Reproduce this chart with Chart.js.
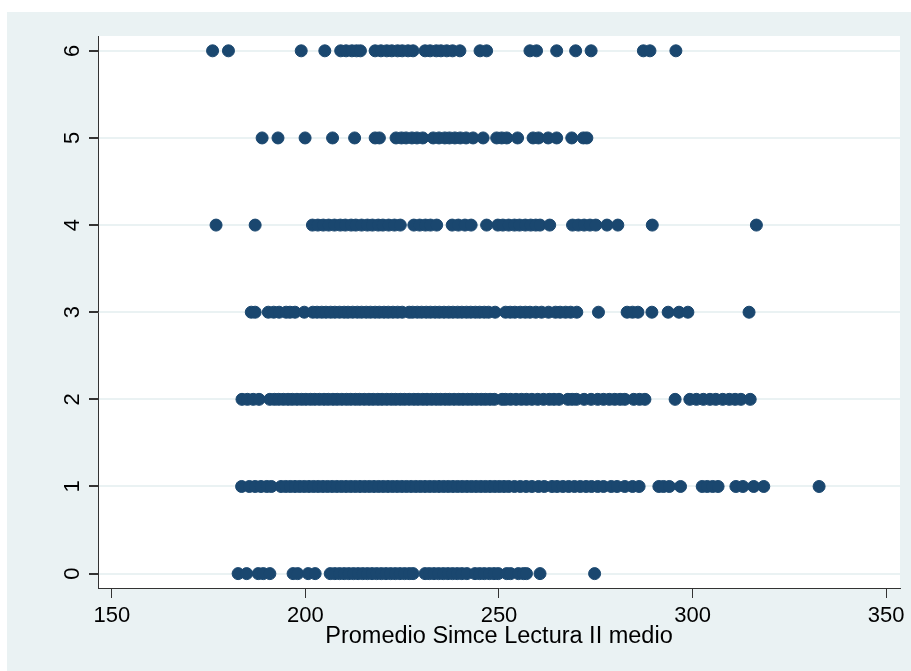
<!DOCTYPE html>
<html>
<head>
<meta charset="utf-8">
<script src="https://cdn.jsdelivr.net/npm/chart.js@4"></script>
<style>
  html, body { margin: 0; padding: 0; background: #fff; }
  #wrap { width: 911px; height: 671px; }
</style>
</head>
<body>
<div id="wrap"><canvas id="myChart" width="911" height="671"></canvas></div>
<script>
// Promedio Simce Lectura II medio, grouped by category (0..6)
const categories = [0, 1, 2, 3, 4, 5, 6];
const xTicks = [150, 200, 250, 300, 350];

const lectura0 = [182.6, 184.8, 187.8, 189.1, 190.8, 196.8, 198.0, 200.7, 202.5, 206.4, 207.6, 208.8, 210.0, 211.2,
  212.4, 213.6, 214.8, 216.0, 217.2, 218.4, 219.6, 220.8, 222.0, 223.2, 224.4, 225.6, 226.8, 227.8, 230.9, 232.0,
  233.2, 234.4, 235.6, 236.8, 238.0, 239.2, 240.4, 241.7, 243.8, 245.0, 246.2, 247.5, 248.7, 249.8, 252.0, 253.0,
  255.0, 256.3, 257.1, 260.6, 274.7];
const lectura1 = [183.5, 185.5, 187.0, 188.5, 190.0, 191.2, 193.7, 194.9, 196.1, 197.3, 198.5, 199.7, 200.9, 202.1,
  203.3, 204.5, 205.7, 206.9, 208.1, 209.3, 210.5, 211.7, 212.9, 214.1, 215.3, 216.5, 217.7, 218.9, 220.1, 221.3,
  222.5, 223.7, 224.9, 226.1, 227.3, 228.5, 229.7, 230.9, 232.1, 233.3, 234.5, 235.7, 236.9, 238.1, 239.3, 240.5,
  241.7, 242.9, 244.1, 245.3, 246.5, 247.7, 248.9, 250.1, 251.3, 252.5, 254.0, 255.5, 257.0, 258.5, 260.2, 261.7,
  263.7, 265.0, 266.5, 268.0, 269.5, 271.0, 272.5, 273.9, 275.5, 277.0, 279.0, 280.5, 282.5, 284.5, 286.2, 291.3,
  292.5, 294.0, 296.9, 302.5, 303.8, 305.2, 306.6, 311.2, 313.0, 315.8, 318.4, 332.7];
const lectura2 = [183.6, 185.0, 186.5, 188.0, 190.8, 192.0, 193.1, 194.3, 195.5, 196.6, 197.8, 199.0, 200.1, 201.3,
  202.4, 203.6, 204.8, 205.9, 207.1, 208.2, 209.4, 210.6, 211.7, 212.9, 214.0, 215.2, 216.4, 217.5, 218.7, 219.8,
  221.0, 222.2, 223.3, 224.5, 225.6, 226.8, 228.0, 229.1, 230.3, 231.4, 232.6, 233.8, 234.9, 236.1, 237.2, 238.4,
  239.6, 240.7, 241.9, 243.0, 244.2, 245.4, 246.5, 247.7, 248.8, 250.8, 251.7, 253.0, 254.4, 255.8, 257.1, 258.5,
  260.0, 261.5, 263.0, 264.2, 265.5, 267.8, 268.9, 270.0, 272.0, 273.8, 275.5, 277.0, 278.5, 279.9, 281.3, 282.5,
  284.8, 286.3, 287.7, 295.5, 299.3, 301.0, 302.8, 304.5, 306.0, 307.8, 309.5, 311.0, 312.5, 314.9];
const lectura3 = [186.0, 187.0, 190.4, 191.8, 193.2, 195.0, 196.0, 197.3, 199.7, 201.9, 203.0, 204.2, 205.3, 206.5,
  207.6, 208.8, 210.0, 211.0, 212.2, 213.4, 214.5, 215.7, 216.8, 218.0, 219.1, 220.3, 221.4, 222.6, 223.8, 225.0,
  226.8, 227.7, 228.9, 230.0, 231.2, 232.3, 233.5, 234.6, 235.8, 237.0, 238.1, 239.3, 240.4, 241.6, 242.7, 243.9,
  245.0, 246.2, 247.3, 249.0, 251.7, 252.9, 254.1, 255.5, 256.8, 258.0, 259.5, 261.0, 262.8, 264.6, 265.8, 267.2,
  268.5, 270.1, 275.7, 283.1, 284.5, 285.9, 289.5, 293.7, 296.5, 298.8, 314.6];
const lectura4 = [176.9, 187.0, 201.8, 203.2, 204.6, 206.0, 207.5, 209.0, 210.3, 211.8, 213.0, 214.5, 216.0, 217.3,
  218.8, 220.0, 221.5, 223.0, 224.5, 228.0, 229.5, 231.0, 232.3, 233.9, 237.9, 239.5, 241.2, 242.8, 246.8, 249.7,
  251.0, 252.5, 254.0, 255.3, 256.8, 258.2, 259.5, 260.6, 263.1, 269.0, 270.5, 272.0, 273.5, 275.0, 277.9, 280.7,
  289.6, 316.5];
const lectura5 = [188.8, 192.9, 199.9, 207.0, 212.7, 218.0, 219.1, 223.4, 224.8, 226.0, 227.5, 228.8, 230.3, 233.0,
  234.5, 236.0, 237.2, 238.6, 240.0, 241.5, 243.3, 245.9, 249.4, 250.7, 252.0, 254.8, 258.8, 260.2, 262.7, 264.9,
  268.8, 271.8, 272.7];
const lectura6 = [176.0, 180.1, 198.9, 205.0, 209.1, 210.5, 212.0, 213.2, 214.2, 218.0, 219.5, 221.0, 222.3, 223.8,
  225.0, 226.5, 227.8, 230.9, 232.2, 233.8, 235.0, 236.5, 238.0, 239.9, 245.1, 246.8, 258.0, 259.7, 264.9, 269.8,
  273.8, 287.3, 289.0, 295.7];

const groups = [lectura0, lectura1, lectura2, lectura3, lectura4, lectura5, lectura6];
let points = [];
groups.forEach((vals, i) => {
  vals.forEach(v => points.push({ x: v, y: categories[i] }));
});

const panelColor = '#EAF2F3';
const markColor = '#1A476F';
const fontFamily = '"Liberation Sans", Arial, sans-serif';

// Stata-like background: light panel, white plot region
const background = {
  id: 'background',
  beforeDraw(chart) {
    const { ctx, chartArea: a } = chart;
    ctx.save();
    ctx.fillStyle = '#fff';
    ctx.fillRect(0, 0, chart.width, chart.height);
    ctx.fillStyle = panelColor;
    ctx.fillRect(7, 12, chart.width - 7, chart.height - 12);
    ctx.fillStyle = '#fff';
    ctx.fillRect(a.left, a.top, a.right - a.left, a.bottom - a.top);
    ctx.restore();
  }
};

// vertical (rotated) y tick labels
const yLabels = {
  id: 'yLabels',
  afterDraw(chart) {
    const { ctx } = chart;
    const s = chart.scales.y;
    ctx.save();
    ctx.font = '22px ' + fontFamily;
    ctx.fillStyle = '#000';
    ctx.textAlign = 'center';
    ctx.textBaseline = 'middle';
    s.ticks.forEach(t => {
      ctx.save();
      ctx.translate(72, s.getPixelForValue(t.value));
      ctx.rotate(-Math.PI / 2);
      ctx.fillText(String(t.value), 0, 1);
      ctx.restore();
    });
    ctx.restore();
  }
};

let ctx = document.getElementById('myChart').getContext('2d');
let chart = new Chart(ctx, {
  type: 'scatter',
  data: {
    datasets: [{
      data: points,
      backgroundColor: markColor,
      borderColor: markColor,
      borderWidth: 1,
      pointRadius: 6
    }]
  },
  options: {
    responsive: false,
    animation: false,
    layout: { padding: { left: 0, top: 36, right: 11, bottom: 20 } },
    plugins: { legend: { display: false }, tooltip: { enabled: false } },
    scales: {
      x: {
        type: 'linear',
        min: 146.4,
        max: 353.6,
        afterBuildTicks: s => { s.ticks = xTicks.map(v => ({ value: v })); },
        afterFit: s => { s.height = 63; },
        grid: { drawOnChartArea: false, drawTicks: true, tickLength: 10, tickColor: '#333' },
        border: { display: true, color: '#333', width: 1 },
        ticks: { color: '#000', font: { size: 22, family: fontFamily }, padding: 5, maxRotation: 0 },
        title: {
          display: true,
          text: 'Promedio Simce Lectura II medio',
          color: '#000',
          font: { size: 23.5, family: fontFamily },
          padding: { top: 0, bottom: 0 }
        }
      },
      y: {
        type: 'linear',
        min: -0.165,
        max: 6.17,
        afterBuildTicks: s => { s.ticks = categories.map(v => ({ value: v })); },
        afterFit: s => { s.width = 98; },
        grid: { color: panelColor, lineWidth: 2, drawTicks: true, tickLength: 9, tickColor: '#333' },
        border: { display: true, color: '#333', width: 1 },
        ticks: { display: false }
      }
    }
  },
  plugins: [background, yLabels]
});
</script>
</body>
</html>
